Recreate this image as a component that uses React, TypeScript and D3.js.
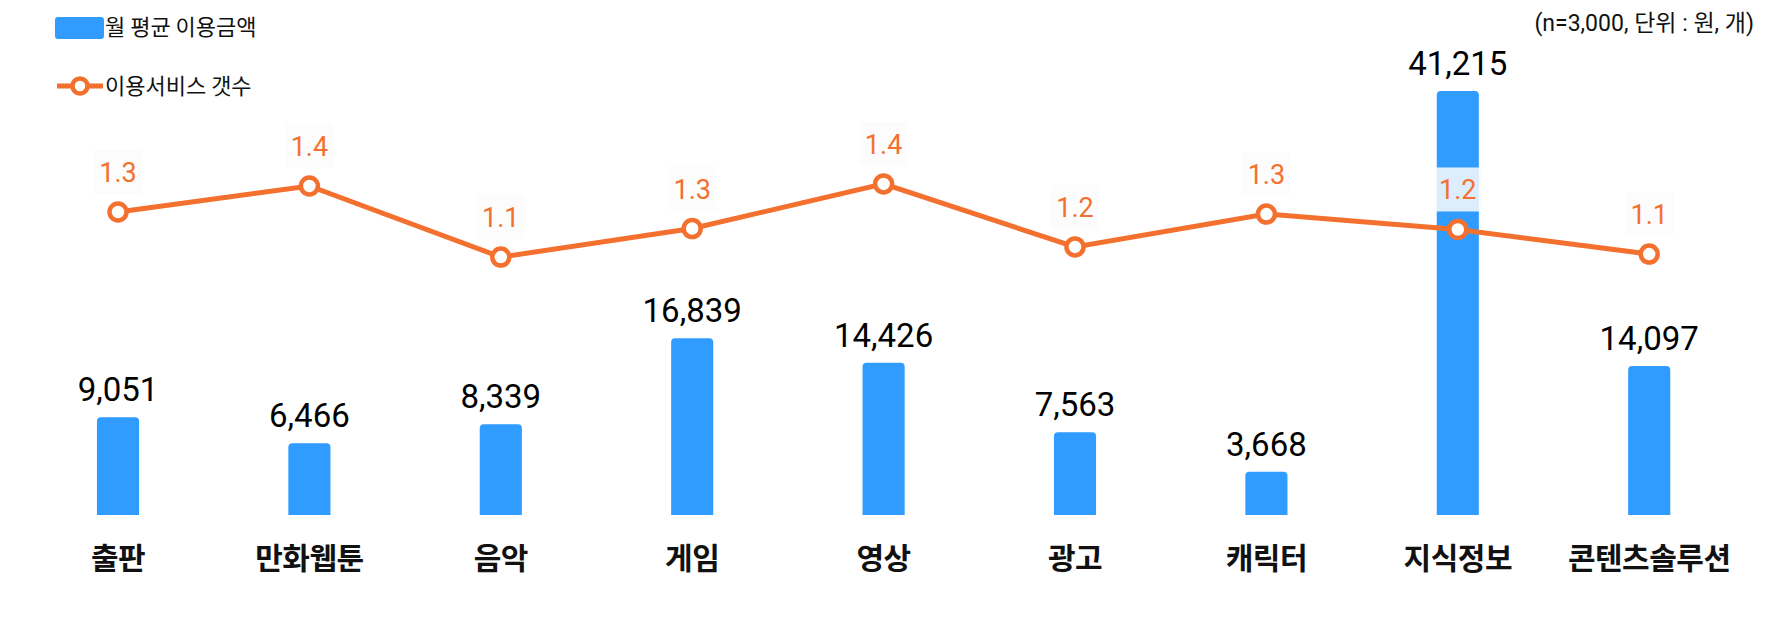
import * as d3 from "d3";
import React, { useRef, useEffect } from "react";

const categories = ["출판", "만화웹툰", "음악", "게임", "영상", "광고", "캐릭터", "지식정보", "콘텐츠솔루션"];
const monthlySpend = [9051, 6466, 8339, 16839, 14426, 7563, 3668, 41215, 14097];
const serviceCount = [1.324, 1.437, 1.128, 1.252, 1.446, 1.172, 1.315, 1.248, 1.141];
const legendLabels = ["월 평균 이용금액", "이용서비스 갯수"];
const noteText = "(n=3,000, 단위 : 원, 개)";

const width = 1768;
const height = 630;
const barColor = "#309cff";
const lineColor = "#f4702e";
const numFont = "Roboto, 'Noto Sans CJK KR', sans-serif";
const krFont = "'Noto Sans CJK KR', sans-serif";

// rounded top corners only
const topRoundedBar = (x: number, y: number, w: number, h: number, r: number) =>
	`M${x},${y + h}V${y + r}Q${x},${y} ${x + r},${y}H${x + w - r}Q${x + w},${y} ${x + w},${y + r}V${y + h}Z`;

const App = () => {
	const d3Container = useRef(null);

	useEffect(() => {
		if (!d3Container.current) return;
		const svg = d3.select(d3Container.current);
		svg.selectAll("*").remove();

		const xScale = d3
			.scaleBand()
			.domain(categories)
			.range([22.3, 1744.9])
			.paddingInner(0.78)
			.paddingOuter(0.39);
		const yBar = d3.scaleLinear().domain([-600, 41215]).range([515, 91]);
		const yLine = d3.scaleLinear().domain([1, 1.5]).range([286.5, 171.5]);
		const cx = (c: string) => (xScale(c) as number) + xScale.bandwidth() / 2;

		// bars
		const barGroup = svg.append("g").attr("class", "bars");
		barGroup
			.selectAll("path")
			.data(monthlySpend)
			.enter()
			.append("path")
			.attr("fill", barColor)
			.attr("d", (d, i) =>
				topRoundedBar(xScale(categories[i]) as number, yBar(d), xScale.bandwidth(), yBar(-600) - yBar(d), 4)
			);

		barGroup
			.selectAll("text")
			.data(monthlySpend)
			.enter()
			.append("text")
			.attr("x", (d, i) => cx(categories[i]))
			.attr("y", (d) => yBar(d) - 16)
			.attr("text-anchor", "middle")
			.attr("font-family", numFont)
			.attr("font-size", 33)
			.attr("fill", "#000")
			.text((d) => d3.format(",")(d));

		// category labels
		svg
			.append("g")
			.selectAll("text")
			.data(categories)
			.enter()
			.append("text")
			.attr("x", (d) => cx(d))
			.attr("y", 569)
			.attr("text-anchor", "middle")
			.attr("font-family", krFont)
			.attr("font-weight", "bold")
			.attr("font-size", 30)
			.attr("letter-spacing", -0.5)
			.attr("fill", "#111")
			.text((d) => d);

		// line
		const line = d3
			.line<number>()
			.x((d, i) => cx(categories[i]))
			.y((d) => yLine(d));
		svg
			.append("path")
			.datum(serviceCount)
			.attr("fill", "none")
			.attr("stroke", lineColor)
			.attr("stroke-width", 5)
			.attr("d", line);

		svg
			.append("g")
			.selectAll("circle")
			.data(serviceCount)
			.enter()
			.append("circle")
			.attr("cx", (d, i) => cx(categories[i]))
			.attr("cy", (d) => yLine(d))
			.attr("r", 8.5)
			.attr("fill", "#fff")
			.attr("stroke", lineColor)
			.attr("stroke-width", 4.5);

		const lineLabels = svg.append("g").selectAll("g").data(serviceCount).enter().append("g");
		lineLabels
			.append("rect")
			.attr("x", (d, i) => cx(categories[i]) - 24)
			.attr("y", (d) => yLine(d) - 62)
			.attr("width", 48)
			.attr("height", 44)
			.attr("fill", "#fcfcfc")
			.attr("fill-opacity", 0.85);
		lineLabels
			.append("text")
			.attr("x", (d, i) => cx(categories[i]))
			.attr("y", (d) => yLine(d) - 30)
			.attr("text-anchor", "middle")
			.attr("font-family", numFont)
			.attr("font-size", 27)
			.attr("fill", lineColor)
			.text((d) => d.toFixed(1));

		// legend
		const legend = svg.append("g");
		legend.append("rect").attr("x", 55).attr("y", 17).attr("width", 49).attr("height", 22).attr("rx", 3).attr("fill", barColor);
		legend.append("line").attr("x1", 57).attr("x2", 103).attr("y1", 86).attr("y2", 86).attr("stroke", lineColor).attr("stroke-width", 5);
		legend.append("circle").attr("cx", 80).attr("cy", 86).attr("r", 7.5).attr("fill", "#fff").attr("stroke", lineColor).attr("stroke-width", 4.5);
		legend
			.selectAll("text")
			.data(legendLabels)
			.enter()
			.append("text")
			.attr("x", 105)
			.attr("y", (d, i) => (i === 0 ? 35 : 94))
			.attr("font-family", krFont)
			.attr("font-size", 22)
			.attr("fill", "#111")
			.text((d) => d);

		svg
			.append("text")
			.attr("x", 1754)
			.attr("y", 31)
			.attr("text-anchor", "end")
			.attr("font-family", numFont)
			.attr("font-size", 23)
			.attr("fill", "#111")
			.text(noteText);
	}, []);

	return (
		<svg
			ref={d3Container}
			width={width}
			height={height}
			style={{ position: "absolute", left: 0, top: 0, backgroundColor: "white" }}
		/>
	);
};

export default App;
